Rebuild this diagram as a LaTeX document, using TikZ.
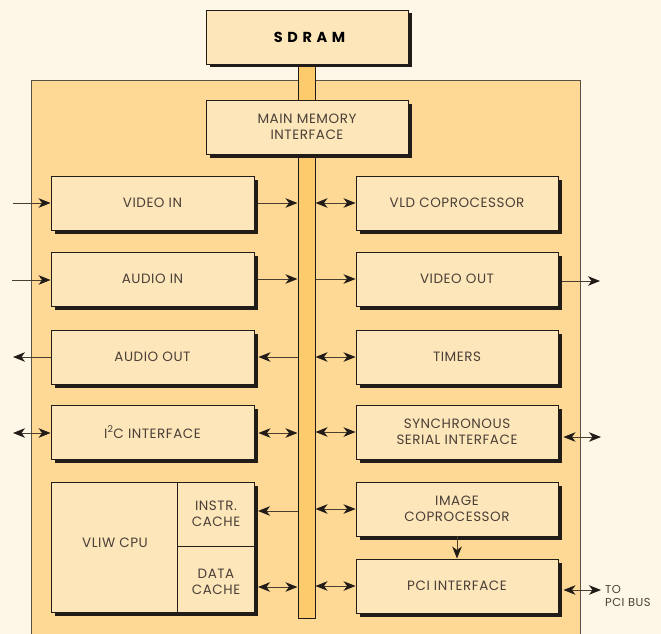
\documentclass[tikz,border=0pt]{standalone}
\usepackage{fontspec}
\setmainfont{Poppins}
\usetikzlibrary{arrows.meta,shadows}
\definecolor{bg}{HTML}{FEF6E7}
\definecolor{chip}{HTML}{FDD995}
\definecolor{boxfill}{HTML}{FEE6BB}
\definecolor{busfill}{HTML}{FDCA6C}
\definecolor{txt}{HTML}{4A4038}
\definecolor{edge}{HTML}{221C18}
\definecolor{wire}{HTML}{4A3E30}
\definecolor{chipedge}{HTML}{5A5048}
\begin{document}
\begin{tikzpicture}[x=1pt,y=-1pt,
  >={Stealth[length=12pt,width=9.5pt,inset=3.5pt,color=edge]},
  lbl/.style={text=txt, font=\addfontfeature{LetterSpace=4}\fontsize{13.5}{16}\selectfont, align=center, inner sep=0pt},
  blk/.style={lbl, draw=edge, line width=0.9pt, fill=boxfill,
    drop shadow={shadow xshift=3.5pt, shadow yshift=-3.5pt, fill=edge, opacity=1}},
  lbox/.style={blk, minimum width=203pt, minimum height=54pt},
  rbox/.style={blk, minimum width=202pt, minimum height=54pt},
  wirel/.style={draw=wire, line width=1pt},
]
\useasboundingbox (0,0) rectangle (661,634);
\fill[bg] (0,0) rectangle (661,634);
% chip
\node[draw=chipedge, line width=1pt, fill=chip, minimum width=549pt, minimum height=570pt, inner sep=0pt] (chip) at (305.5,365) {};
% bus
\node[draw=edge, line width=1pt, fill=busfill, minimum width=17pt, minimum height=554pt, inner sep=0pt] (bus) at (306.5,341) {};
% top boxes
\node[rbox, font=\fontsize{14.5}{16}\selectfont\bfseries\addfontfeature{LetterSpace=32}, text=black] (sdram) at (307,37) {\hspace*{5pt}SDRAM};
\node[rbox] (mmi) at (307,127) {MAIN MEMORY\\INTERFACE};
% left column
\node[lbox] (vin) at (152.5,203) {VIDEO IN};
\node[lbox] (ain) at (152.5,279) {AUDIO IN};
\node[lbox] (aout) at (152.5,357) {AUDIO OUT};
\node[lbox] (i2c) at (152.5,432) {I\textsuperscript{2}C INTERFACE};
\node[lbox, minimum height=130pt] (cpu) at (152.5,547) {};
\draw[draw=edge, line width=0.9pt] (cpu.north -| 177,0) -- (cpu.south -| 177,0);
\draw[draw=edge, line width=0.9pt] (177,546) -- (cpu.east |- 0,546);
\node[lbl] (vliw) at (115,543) {VLIW CPU};
\node[lbl] (icache) at (216,514) {INSTR.\\CACHE};
\node[lbl] (dcache) at (216,582) {DATA\\CACHE};
% right column
\node[rbox] (vld) at (457,203) {VLD COPROCESSOR};
\node[rbox] (vout) at (457,279) {VIDEO OUT};
\node[rbox] (timers) at (457,357) {TIMERS};
\node[rbox] (ssi) at (457,432) {SYNCHRONOUS\\SERIAL INTERFACE};
\node[rbox] (imgc) at (457,509) {IMAGE\\COPROCESSOR};
\node[rbox] (pci) at (457,586) {PCI INTERFACE};
\node[lbl, font=\addfontfeature{LetterSpace=4}\fontsize{11.5}{13.5}\selectfont, anchor=west, align=left] (topci) at (605,596) {TO\\PCI BUS};
% free ends
\coordinate (vinx) at (13,203);
\coordinate (ainx) at (12,280);
\coordinate (aoutx) at (13,357);
\coordinate (i2cx) at (13,433);
\coordinate (voutx) at (600,281);
\coordinate (ssix) at (601,437);
\coordinate (pcix) at (601,590);
\coordinate (iport) at (258,511);
\coordinate (dport) at (258,587);
% connectors left
\draw[wirel,->] (vinx) -- (vin.west);
\draw[wirel,->] ([xshift=4pt]vin.east) -- (vin.east -| bus.west);
\draw[wirel,->] (ainx) -- (ain.west |- ainx);
\draw[wirel,->] ([xshift=4pt]ain.east) -- (ain.east -| bus.west);
\draw[wirel,->] (aout.west) -- (aoutx);
\draw[wirel,->] (aout.east -| bus.west) -- ([xshift=4pt]aout.east);
\draw[wirel,<->] (i2cx) -- (i2c.west |- i2cx);
\draw[wirel,<->] ([xshift=4pt]i2c.east |- i2cx) -- (bus.west |- i2cx);
\draw[wirel,->] (bus.west |- iport) -- (iport);
\draw[wirel,<->] (dport) -- (bus.west |- dport);
% connectors right
\draw[wirel,<->] (bus.east |- vld.west) -- (vld.west);
\draw[wirel,->] (bus.east |- vout.west) -- (vout.west);
\draw[wirel,<->] (bus.east |- timers.west) -- (timers.west);
\draw[wirel,<->] (bus.east |- ssi.west) -- (ssi.west);
\draw[wirel,<->] (bus.east |- imgc.west) -- (imgc.west);
\draw[wirel,<->] (bus.east |- pci.west) -- (pci.west);
\draw[wirel,->] ([xshift=4pt]vout.east |- voutx) -- (voutx);
\draw[wirel,<->] ([xshift=5pt]ssi.east |- ssix) -- (ssix);
\draw[wirel,<->] ([xshift=5pt]pci.east |- pcix) -- (pcix);
\draw[wirel,->] (imgc.south) -- (pci.north);
\end{tikzpicture}
\end{document}
